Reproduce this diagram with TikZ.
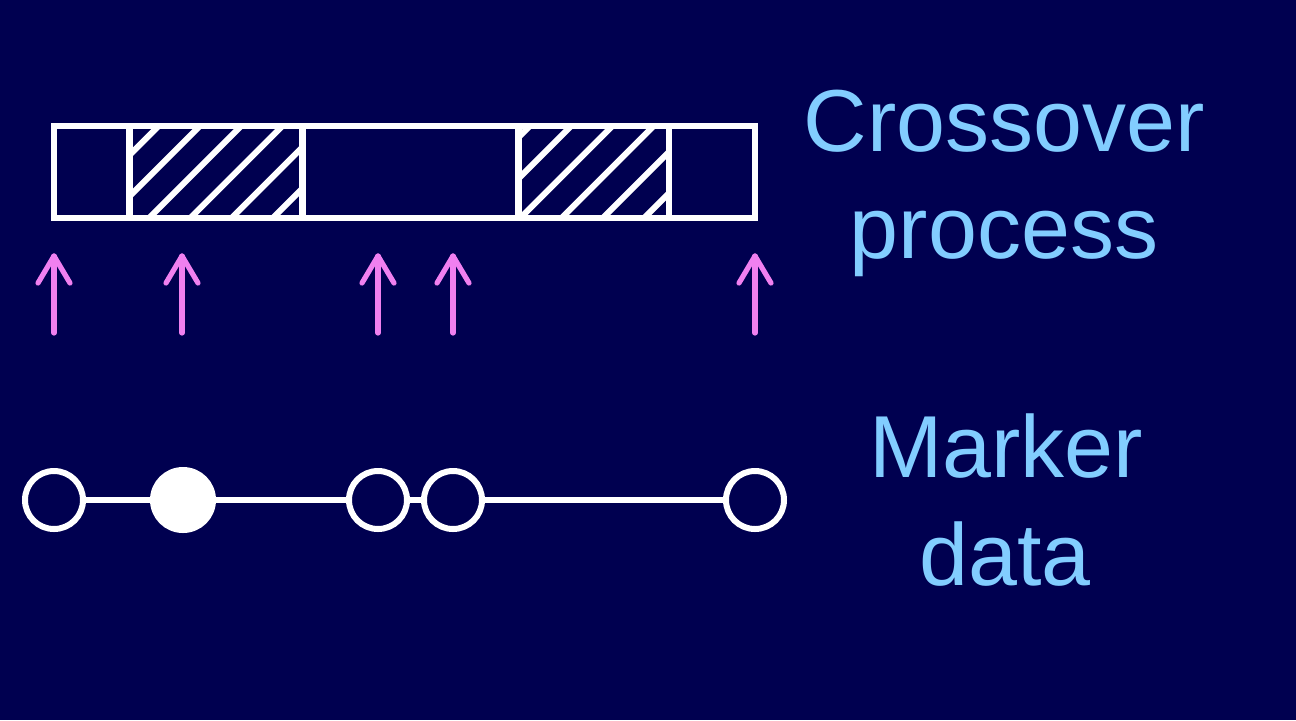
\documentclass[tikz,border=0pt]{standalone}
\usepackage{fontspec}
\setmainfont{Liberation Sans}
\usetikzlibrary{calc}
\definecolor{bg}{RGB}{0,0,80}
\definecolor{lblue}{RGB}{130,205,255}
\definecolor{pinkarrow}{RGB}{240,128,240}
\tikzset{
  frame/.style={draw=white, line width=3.2pt, line join=miter},
  hatch/.style={draw=white, line width=3pt},
  parrow/.style={draw=pinkarrow, line width=2.6pt, line cap=round, line join=round},
  openmarker/.style={circle, draw=white, line width=3pt, fill=bg, minimum size=29pt, inner sep=0pt},
  fullmarker/.style={circle, draw=white, line width=3pt, fill=white, minimum size=30pt, inner sep=0pt},
  link/.style={draw=white, line width=3pt},
  lbl/.style={text=lblue, font=\fontsize{44}{54}\selectfont, inner sep=0pt, anchor=base}
}
\begin{document}
\begin{tikzpicture}[x=0.5pt, y=-0.5pt]
\useasboundingbox (0,0) rectangle (1296,720);
\fill[bg] (0,0) rectangle (1296,720);

% hatching
\begin{scope}
  \clip (129,126) rectangle (302,218);
  \foreach \k in {-8,...,6} { \draw[hatch] ({367+41.25*\k-260},260) -- ({367+41.25*\k},0); }
\end{scope}
\begin{scope}
  \clip (518,126) rectangle (669,218);
  \foreach \k in {0,...,14} { \draw[hatch] ({367+41.25*\k-260},260) -- ({367+41.25*\k},0); }
\end{scope}

% frame and dividers
\coordinate (r1) at (54,126);
\coordinate (r2) at (755,218);
\draw[frame] (r1) rectangle (r2);
\foreach \x in {129.5,302.5,518.5,669} { \draw[frame] (\x,126) -- (\x,218); }

% arrows
\foreach \x [count=\i] in {54,182,378,453,755} {
  \coordinate (ab\i) at (\x,333);
  \coordinate (at\i) at (\x,256);
  \draw[parrow] (ab\i) -- (at\i);
  \draw[parrow] ($(at\i)+(-16,27)$) -- (at\i) -- ($(at\i)+(16,27)$);
}

% marker chain
\node[openmarker] (m1) at (54,500) {};
\node[fullmarker] (m2) at (183,500) {};
\node[openmarker] (m3) at (378,500) {};
\node[openmarker] (m4) at (453,500) {};
\node[openmarker] (m5) at (755,500) {};
\draw[link] (m1) -- (m2);
\draw[link] (m2) -- (m3);
\draw[link] (m3) -- (m4);
\draw[link] (m4) -- (m5);

% labels
\node[lbl] (t1) at (1004,151) {Crossover};
\node[lbl] (t2) at (1004,258) {process};
\node[lbl] (t3) at (1006,477) {Marker};
\node[lbl] (t4) at (1005,585) {data};
\end{tikzpicture}
\end{document}
